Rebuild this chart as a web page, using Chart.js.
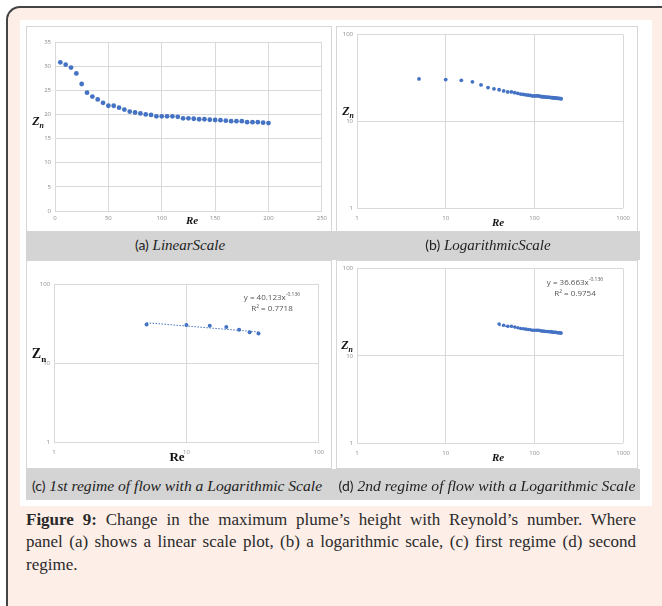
<!DOCTYPE html>
<html>
<head>
<meta charset="utf-8">
<script src="https://cdn.jsdelivr.net/npm/chart.js@4.4.1/dist/chart.umd.min.js"></script>
<style>
  body { margin: 0; background: #fff; }
  #page { position: relative; width: 662px; height: 606px; overflow: hidden; }
  #frame {
    position: absolute; left: 6px; top: 6px; width: 720px; height: 700px;
    border-left: 2px solid #444; border-top: 2px solid #444;
    border-top-left-radius: 14px; background: #fdeee8;
  }
  #figbox { position: absolute; left: 20px; top: 20px; width: 632px; height: 486px; background: #fff; }
  canvas { position: absolute; outline: 1px solid #d6d6d6; }
  .band { position: absolute; left: 26px; width: 614px; background: #d4d4d4; }
  .sub {
    position: absolute; font-family: "Liberation Serif", serif; font-style: italic;
    font-size: 15px; color: #222; white-space: nowrap; transform: translate(-50%, -50%);
  }
  .sub span { font-family: Lato, sans-serif; font-style: normal; font-size: 14px; }
  .row2 { font-size: 15.6px; }
  .ax { position: absolute; font-family: "Liberation Serif", serif; font-weight: bold; color: #111; transform: translate(-50%, -50%); white-space: nowrap; }
  .ax sub { font-size: 0.65em; }
  .eq { position: absolute; font-family: "Open Sans", sans-serif; font-size: 8px; color: #555; white-space: nowrap; transform: translate(-50%, -50%); }
  .eq sup { font-size: 5px; }
  .cap { position: absolute; left: 26px; width: 610px; font-family: "Liberation Serif", serif; font-size: 17px; color: #2a2a2a; white-space: nowrap; }
  .cap.j { text-align: justify; text-align-last: justify; }
</style>
</head>
<body>
<div id="page">
  <div id="frame"></div>
  <div id="figbox"></div>

  <canvas id="panelA" width="304" height="204" style="left:27px;top:27px"></canvas>
  <canvas id="panelB" width="300" height="204" style="left:337px;top:27px"></canvas>
  <div class="band" style="top:231px;height:29px"></div>
  <canvas id="panelC" width="304" height="207" style="left:27px;top:261px"></canvas>
  <canvas id="panelD" width="300" height="207" style="left:337px;top:261px"></canvas>
  <div class="band" style="top:469px;height:31px"></div>

  <div class="sub" style="left:180px;top:245px"><span>(a)</span> LinearScale</div>
  <div class="sub" style="left:488px;top:245px"><span>(b)</span> LogarithmicScale</div>
  <div class="sub row2" style="left:177px;top:486px"><span>(c)</span> 1st regime of flow with a Logarithmic Scale</div>
  <div class="sub row2" style="left:487px;top:486px"><span>(d)</span> 2nd regime of flow with a Logarithmic Scale</div>

  <div class="ax" style="left:192px;top:220px;font-size:11px;font-style:italic">Re</div>
  <div class="ax" style="left:38px;top:122px;font-size:12px;font-style:italic">Z<sub>n</sub></div>
  <div class="ax" style="left:498px;top:222px;font-size:11px;font-style:italic">Re</div>
  <div class="ax" style="left:348px;top:112px;font-size:12px;font-style:italic">Z<sub>n</sub></div>
  <div class="ax" style="left:177px;top:457px;font-size:13px">Re</div>
  <div class="ax" style="left:39px;top:355px;font-size:14px">Z<sub>n</sub></div>
  <div class="ax" style="left:498px;top:457px;font-size:11px;font-style:italic">Re</div>
  <div class="ax" style="left:347px;top:346px;font-size:12px;font-style:italic">Z<sub>n</sub></div>

  <div class="eq" style="left:272px;top:296px">y = 40.123x<sup>-0.136</sup></div>
  <div class="eq" style="left:272px;top:307px">R² = 0.7718</div>
  <div class="eq" style="left:575px;top:281px">y = 36.663x<sup>-0.136</sup></div>
  <div class="eq" style="left:575px;top:292px">R² = 0.9754</div>

  <div class="cap j" style="top:510px"><b>Figure 9:</b> Change in the maximum plume’s height with Reynold’s number. Where</div>
  <div class="cap j" style="top:532px">panel (a) shows a linear scale plot, (b) a logarithmic scale, (c) first regime (d) second</div>
  <div class="cap" style="top:555px">regime.</div>
</div>

<script>
// Reynolds number vs max plume height
const RE_ALL = [5, 10, 15, 20, 25, 30, 35, 40, 45, 50, 55, 60, 65, 70, 75, 80, 85, 90, 95, 100,
  105, 110, 115, 120, 125, 130, 135, 140, 145, 150, 155, 160, 165, 170, 175, 180, 185, 190, 195, 200];
const ZN_ALL = [30.8, 30.3, 29.7, 28.5, 26.3, 24.5, 23.7, 23.1, 22.4, 21.8, 21.8, 21.4, 21.0, 20.6, 20.4, 20.2, 20.0, 19.9, 19.6, 19.6,
  19.6, 19.6, 19.5, 19.2, 19.2, 19.1, 19.0, 19.0, 18.9, 18.85, 18.8, 18.7, 18.6, 18.6, 18.6, 18.4, 18.4, 18.4, 18.3, 18.2];

// regime 1 = first 7 points, regime 2 = the rest
const REGIME1_COUNT = 7;

// power-law trendlines (straight on log-log, so just the ends)
const TREND1_RE = [5, 35];
const TREND1_ZN = [32.3, 24.7];
const TREND2_RE = [40, 200];
const TREND2_ZN = [22.2, 17.8];

// axis ticks
const LIN_X_TICKS = [0, 50, 100, 150, 200, 250];
const LIN_Y_TICKS = [0, 5, 10, 15, 20, 25, 30, 35];
const LOG_X_TICKS_WIDE = [1, 10, 100, 1000];
const LOG_X_TICKS_NARROW = [1, 10, 100];
const LOG_Y_TICKS = [1, 10, 100];

const DOT_COLOR = "#4472c4";
const GRID_COLOR = "#d9d9d9";
const TICK_COLOR = "#8c8c8c";

function toPoints(xs, ys) {
  return xs.map((x, i) => ({ x: x, y: ys[i] }));
}

function makeScale(type, ticks, fitSize, isX, pad) {
  return {
    type: type,
    min: ticks[0],
    max: ticks[ticks.length - 1],
    border: { display: false },
    grid: { color: GRID_COLOR, lineWidth: 1, drawTicks: false },
    ticks: {
      color: TICK_COLOR,
      font: { size: 6, family: "Open Sans" },
      padding: pad,
      autoSkip: false,
      maxRotation: 0,
      callback: v => String(v)
    },
    afterBuildTicks: scale => { scale.ticks = ticks.map(v => ({ value: v })); },
    afterFit: scale => { if (isX) scale.height = fitSize; else scale.width = fitSize; }
  };
}

function buildPanel(id, cfg) {
  const datasets = [{
    data: toPoints(cfg.xs, cfg.ys),
    backgroundColor: DOT_COLOR,
    borderWidth: 0,
    pointRadius: cfg.radius,
    showLine: false
  }];
  if (cfg.trendX) {
    datasets.push({
      data: toPoints(cfg.trendX, cfg.trendY),
      borderColor: DOT_COLOR,
      borderWidth: 1,
      borderDash: [1.5, 1.5],
      pointRadius: 0,
      showLine: true
    });
  }

  new Chart(document.getElementById(id), {
    type: "scatter",
    data: { datasets },
    options: {
      responsive: false,
      animation: false,
      layout: { padding: cfg.padding },
      plugins: { legend: { display: false }, tooltip: { enabled: false } },
      scales: {
        x: makeScale(cfg.xType, cfg.xTicks, cfg.xFit, true, cfg.xPad),
        y: makeScale(cfg.yType, cfg.yTicks, cfg.yFit, false, 4)
      }
    }
  });
}

// (a) linear
buildPanel("panelA", {
  xs: RE_ALL, ys: ZN_ALL, radius: 2.4,
  xType: "linear", yType: "linear",
  xTicks: LIN_X_TICKS, yTicks: LIN_Y_TICKS,
  xFit: 20, yFit: 28, xPad: 4,
  padding: { left: 0, right: 8, top: 15, bottom: 0 }
});

// (b) log-log, all points
buildPanel("panelB", {
  xs: RE_ALL, ys: ZN_ALL, radius: 1.9,
  xType: "logarithmic", yType: "logarithmic",
  xTicks: LOG_X_TICKS_WIDE, yTicks: LOG_Y_TICKS,
  xFit: 23, yFit: 20, xPad: 7,
  padding: { left: 0, right: 11, top: 7, bottom: 0 }
});

// (c) first regime
buildPanel("panelC", {
  xs: RE_ALL.slice(0, REGIME1_COUNT), ys: ZN_ALL.slice(0, REGIME1_COUNT), radius: 2,
  trendX: TREND1_RE, trendY: TREND1_ZN,
  xType: "logarithmic", yType: "logarithmic",
  xTicks: LOG_X_TICKS_NARROW, yTicks: LOG_Y_TICKS,
  xFit: 26, yFit: 27, xPad: 7,
  padding: { left: 0, right: 11, top: 23, bottom: 0 }
});

// (d) second regime
buildPanel("panelD", {
  xs: RE_ALL.slice(REGIME1_COUNT), ys: ZN_ALL.slice(REGIME1_COUNT), radius: 1.8,
  trendX: TREND2_RE, trendY: TREND2_ZN,
  xType: "logarithmic", yType: "logarithmic",
  xTicks: LOG_X_TICKS_WIDE, yTicks: LOG_Y_TICKS,
  xFit: 25, yFit: 20, xPad: 7,
  padding: { left: 0, right: 11, top: 7, bottom: 0 }
});
</script>
</body>
</html>
